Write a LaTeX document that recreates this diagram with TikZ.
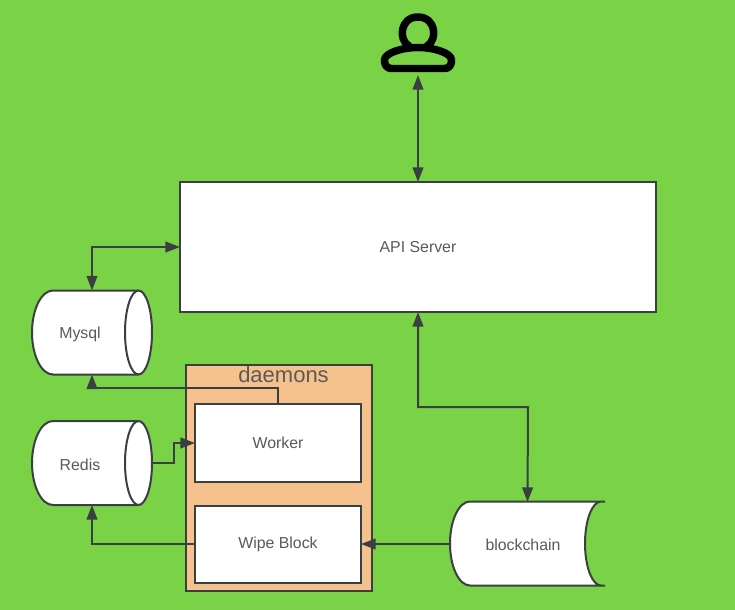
\documentclass[tikz,border=0pt]{standalone}
\usepackage{fontspec}
\setmainfont{Liberation Sans}
\usetikzlibrary{arrows.meta}
\definecolor{bggreen}{HTML}{7AD246}
\definecolor{boxorange}{HTML}{F5C28E}
\definecolor{linedark}{HTML}{3A3F42}
\definecolor{textgray}{HTML}{5A5A5A}
\tikzset{
  px/.style={x=.75pt,y=-.75pt},
  plainbox/.style={draw=linedark,fill=white,line width=1.5pt,inner sep=0pt,outer sep=0pt,text=textgray,font=\fontsize{11.9}{13}\selectfont},
  anchorbox/.style={inner sep=0pt,outer sep=0pt,text=textgray,font=\fontsize{11.9}{13}\selectfont},
  shapeline/.style={draw=linedark,line width=1.5pt},
  link/.style={draw=linedark,line width=1.5pt,-{Triangle[length=11pt,width=8pt]}},
  dlink/.style={draw=linedark,line width=1.5pt,{Triangle[length=11pt,width=8pt]}-{Triangle[length=11pt,width=8pt]}},
  iconline/.style={draw=black,line width=5.6pt,line cap=round,line join=round}
}
\begin{document}
\begin{tikzpicture}[px]
\useasboundingbox (0,0) rectangle (735,610);
\fill[bggreen] (0,0) rectangle (735,610);
% user icon
\draw[iconline] (409,46) .. controls (398,40) and (400,17) .. (418,17) .. controls (436,17) and (438,40) .. (427,46);
\draw[iconline] (392,68.5) .. controls (385,68.5) and (384.5,63) .. (384.5,60) .. controls (384.5,53) and (402,47.5) .. (418,47.5) .. controls (434,47.5) and (451.5,53) .. (451.5,60) .. controls (451.5,63) and (451,68.5) .. (444,68.5) -- cycle;
\node[minimum width=55.5pt,minimum height=46.5pt,inner sep=0pt,outer sep=0pt] (user) at (418,44) {};
% API server
\node[plainbox,minimum width=357pt,minimum height=97.5pt] (api) at (418,247) {API Server};
% Mysql cylinder
\filldraw[shapeline,fill=white] (138.5,290.5) -- (53,290.5) arc[start angle=270,end angle=90,x radius=21,y radius=42] -- (138.5,374.5) arc[start angle=90,end angle=-90,x radius=13.5,y radius=42] -- cycle;
\draw[shapeline] (138.5,290.5) arc[start angle=270,end angle=90,x radius=13.5,y radius=42];
\node[anchorbox,minimum width=90pt,minimum height=63pt] (mysql) at (92,332.5) {};
\node[anchorbox] (mysqltext) at (80,334) {Mysql};
% Redis cylinder
\filldraw[shapeline,fill=white] (138.5,421) -- (53,421) arc[start angle=270,end angle=90,x radius=21,y radius=42] -- (138.5,505) arc[start angle=90,end angle=-90,x radius=13.5,y radius=42] -- cycle;
\draw[shapeline] (138.5,421) arc[start angle=270,end angle=90,x radius=13.5,y radius=42];
\node[anchorbox,minimum width=90pt,minimum height=63pt] (redis) at (92,463) {};
\node[anchorbox] (redistext) at (80,464.5) {Redis};
% daemons
\node[draw=linedark,fill=boxorange,line width=1.5pt,inner sep=0pt,outer sep=0pt,minimum width=139.5pt,minimum height=169.5pt] (daemons) at (279,478) {};
\node[text=textgray,font=\fontsize{16.5}{18}\selectfont,inner sep=0pt] (daemonstext) at (283.5,374.5) {daemons};
\node[plainbox,minimum width=124.5pt,minimum height=58.5pt] (worker) at (278,443) {Worker};
\node[plainbox,minimum width=124.5pt,minimum height=57.75pt] (wipe) at (278,544) {Wipe Block};
% blockchain
\filldraw[shapeline,fill=white] (605,501.5) -- (470,501.5) arc[start angle=270,end angle=90,x radius=20,y radius=42] -- (605,585.5) -- (601,585.5) arc[start angle=90,end angle=270,x radius=16,y radius=42] -- cycle;
\node[anchorbox,minimum width=116.25pt,minimum height=63pt] (chain) at (527.5,544) {};
\node[anchorbox] (chaintext) at (523,544.5) {blockchain};
% connectors
\draw[dlink] (user.south) -- (api.north);
\draw[dlink] (mysql.north) |- (api.west);
\draw[dlink] (api.south) |- ++(110,95) -- (chain.north);
\draw[link] (worker.north) -- ++(0,-16) -| (mysql.south);
\draw[link] (redis.east) -- ++(22,0) |- (worker.west);
\draw[link] (wipe.west) -| (redis.south);
\draw[link] (chain.west) -- (wipe.east);
\end{tikzpicture}
\end{document}
